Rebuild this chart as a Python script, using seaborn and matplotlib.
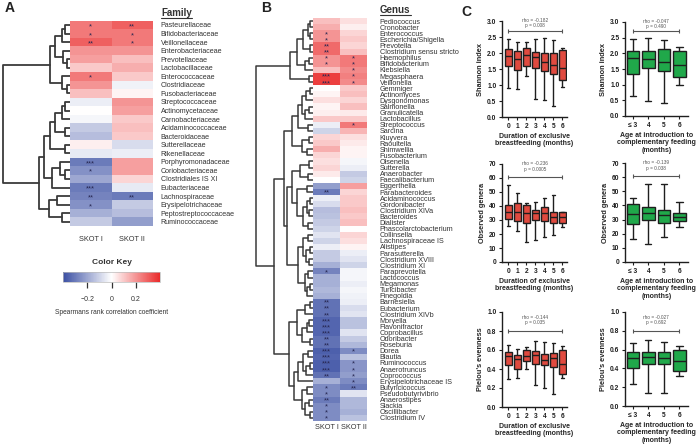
import numpy as np
import pandas as pd
import matplotlib
matplotlib.use("Agg")
import matplotlib.pyplot as plt
import seaborn as sns
from matplotlib.colors import LinearSegmentedColormap
from matplotlib.lines import Line2D

sns.set_theme(style="white")
plt.rcParams['font.family'] = ['Liberation Sans', 'DejaVu Sans']
plt.rcParams['text.color'] = '#333333'

W, H = 696, 444
TXT = '#333333'

# ------------------------------------------------------------------ data A
families = ['Pasteurellaceae', 'Bifidobacteriaceae', 'Veillonellaceae', 'Enterobacteriaceae',
            'Prevotellaceae', 'Lactobacillaceae', 'Enterococcaceae', 'Clostridiaceae',
            'Fusobacteriaceae', 'Streptococcaceae', 'Actinomycetaceae', 'Carnobacteriaceae',
            'Acidaminococcaceae', 'Bacteroidaceae', 'Sutterellaceae', 'Rikenellaceae',
            'Porphyromonadaceae', 'Coriobacteriaceae', 'Clostridiales IS XI', 'Eubacteriaceae',
            'Lachnospiraceae', 'Erysipelotrichaceae', 'Peptostreptococcaceae', 'Ruminococcaceae']
fam_skot1 = [0.25, 0.25, 0.30, 0.20, 0.18, 0.10, 0.25, 0.20, 0.12, -0.04, 0.00, -0.02,
             -0.12, -0.15, 0.03, -0.05, -0.30, -0.25, -0.20, -0.30, -0.28, -0.25, -0.18, -0.12]
fam_skot2 = [0.30, 0.25, 0.25, 0.20, 0.12, 0.15, 0.10, -0.03, 0.02, 0.20, 0.18, 0.10,
             0.12, 0.10, -0.08, -0.04, 0.18, 0.18, 0.08, -0.05, -0.30, -0.12, -0.15, -0.22]
fam_sig1 = ['*', '*', '**', '', '', '', '*', '', '', '', '', '',
            '', '', '', '', '***', '*', '', '***', '**', '*', '', '']
fam_sig2 = ['**', '*', '*', '', '', '', '', '', '', '', '', '',
            '', '', '', '', '', '', '', '', '**', '', '', '']
# merge height between neighbouring leaves (dendrogram)
fam_gaps = [15, 25, 45, 20, 10, 62, 25, 10, 205, 15, 25, 45, 15, 60, 15, 80,
            30, 15, 55, 95, 40, 65, 25]

# ------------------------------------------------------------------ data B
genera = ['Pediococcus', 'Cronobacter', 'Enterococcus', 'Escherichia/Shigella', 'Prevotella',
          'Clostridium sensu stricto', 'Haemophilus', 'Bifidobacterium', 'Klebsiella',
          'Megasphaera', 'Veillonella', 'Gemmiger', 'Actinomyces', 'Dysgonomonas', 'Salmonella',
          'Granulicatella', 'Lactobacillus', 'Streptococcus', 'Sarcina', 'Kluyvera', 'Raoultella',
          'Shimwellia', 'Fusobacterium', 'Olsenella', 'Sutterella', 'Anaerobacter',
          'Faecalibacterium', 'Eggerthella', 'Parabacteroides', 'Acidaminococcus', 'Gordonibacter',
          'Clostridium XlVa', 'Bacteroides', 'Dialister', 'Phascolarctobacterium', 'Collinsella',
          'Lachnospiraceae IS', 'Alistipes', 'Parasutterella', 'Clostridium XVIII',
          'Clostridium XI', 'Paraprevotella', 'Lactococcus', 'Megamonas', 'Turicibacter',
          'Finegoldia', 'Barnesiella', 'Eubacterium', 'Clostridium XlVb', 'Moryella',
          'Flavonifractor', 'Coprobacillus', 'Odoribacter', 'Roseburia', 'Dorea', 'Blautia',
          'Ruminococcus', 'Anaerotruncus', 'Coprococcus', 'Erysipelotrichaceae IS',
          'Butyricicoccus', 'Pseudobutyrivibrio', 'Anaerostipes', 'Slackia', 'Oscillibacter',
          'Clostridium IV']
gen_skot1 = [0.12, 0.15, 0.20, 0.20, 0.28, 0.28, 0.20, 0.20, 0.12, 0.36, 0.36,
             0.00, 0.02, 0.06, 0.02, 0.03, 0.10, -0.04, -0.10, 0.08, 0.10, 0.15, 0.08,
             0.06, 0.08, 0.04, 0.00, -0.22, -0.30, -0.04, -0.08, -0.15, -0.14, -0.12, -0.10,
             -0.06, -0.10, -0.04, -0.12, -0.12, -0.18, -0.28, -0.18, -0.18, -0.16, -0.18,
             -0.32, -0.32, -0.32, -0.35, -0.35, -0.35, -0.32, -0.32, -0.36, -0.35, -0.36,
             -0.36, -0.32, -0.18, -0.26, -0.26, -0.30, -0.26, -0.26, -0.26]
gen_skot2 = [0.06, 0.03, 0.08, 0.10, 0.08, 0.12, 0.25, 0.25, 0.22, 0.24, 0.22,
             0.10, 0.12, 0.08, 0.12, 0.04, 0.10, 0.25, 0.14, 0.06, 0.04, 0.02, 0.02,
             -0.02, -0.04, -0.12, -0.10, 0.18, 0.08, 0.10, 0.10, 0.12, 0.10, 0.12, 0.00,
             0.08, 0.06, 0.02, -0.04, -0.06, -0.10, -0.02, -0.02, -0.04, -0.02, -0.03,
             -0.04, -0.08, -0.06, -0.14, -0.14, -0.06, -0.12, -0.16, -0.26, -0.14, -0.24,
             -0.24, -0.22, -0.26, -0.30, -0.06, -0.16, -0.16, -0.18, -0.14]
gen_sig1 = ['', '', '*', '*', '**', '**', '*', '*', '', '***', '***',
            '', '', '', '', '', '', '', '', '', '', '', '',
            '', '', '', '', '', '**', '', '', '', '', '', '',
            '', '', '', '', '', '', '*', '', '', '', '',
            '**', '**', '**', '***', '***', '***', '**', '**', '***', '***', '***',
            '***', '**', '', '*', '*', '**', '*', '*', '*']
gen_sig2 = ['', '', '', '', '', '', '*', '*', '*', '*', '*',
            '', '', '', '', '', '', '*', '', '', '', '', '',
            '', '', '', '', '', '', '', '', '', '', '', '',
            '', '', '', '', '', '', '', '', '', '', '',
            '', '', '', '', '', '', '', '', '*', '', '*',
            '*', '*', '*', '**', '', '', '', '', '']
gen_gaps = [8, 15, 10, 30, 10, 50, 12, 25, 70, 12, 175,
            10, 22, 35, 12, 25, 45, 15, 65, 12, 35, 18, 90,
            12, 40, 15, 65, 20, 50, 10, 20, 12, 30, 15, 80,
            15, 30, 10, 22, 12, 45, 15, 25, 10, 18, 120,
            10, 25, 50, 12, 20, 35, 10, 75,
            15, 30, 10, 22, 45, 60, 20, 35, 12, 25, 8]

# ------------------------------------------------------------------ data C
bf_months = ['0', '1', '2', '3', '4', '5', '6']
cf_months = ['≤ 3', '4', '5', '6']
# min, Q1, median, Q3, max
shannon_bf = [[0.91, 1.60, 1.92, 2.12, 2.44], [0.89, 1.46, 1.82, 2.07, 2.34],
              [1.29, 1.60, 1.95, 2.16, 2.34], [0.57, 1.53, 1.88, 2.03, 2.44],
              [0.54, 1.45, 1.71, 2.00, 2.47], [0.33, 1.35, 1.64, 2.00, 2.40],
              [0.94, 1.17, 1.53, 2.08, 2.16]]
shannon_cf = [[0.63, 1.34, 1.86, 2.06, 2.45], [0.48, 1.52, 1.82, 2.09, 2.49],
              [0.42, 1.45, 1.71, 2.13, 2.41], [0.99, 1.23, 1.63, 2.06, 2.20]]
genera_bf = [[26, 31, 36, 41, 55], [22, 29, 36, 42, 49], [14, 28, 35, 41, 42.5],
             [16, 30, 35, 37, 43], [18, 29, 35, 39, 45.5], [19, 28, 32.5, 36, 48],
             [25, 28, 32, 35.5, 36]]
genera_cf = [[16.5, 27, 34, 41, 45.5], [13, 29.5, 35, 39, 55], [18, 27.5, 33, 37, 55],
             [25, 29, 31.5, 34.5, 42.5]]
pielou_bf = [[0.29, 0.44, 0.54, 0.58, 0.65], [0.31, 0.40, 0.51, 0.55, 0.61],
             [0.40, 0.48, 0.54, 0.60, 0.63], [0.23, 0.45, 0.55, 0.59, 0.70],
             [0.20, 0.44, 0.50, 0.56, 0.68], [0.14, 0.42, 0.52, 0.57, 0.67],
             [0.31, 0.35, 0.45, 0.60, 0.64]]
pielou_cf = [[0.23, 0.40, 0.515, 0.575, 0.67], [0.14, 0.45, 0.52, 0.57, 0.70],
             [0.14, 0.45, 0.51, 0.57, 0.68], [0.32, 0.375, 0.48, 0.60, 0.64]]
stats_txt = {'shannon_bf': ('-0.182', '0.008'), 'shannon_cf': ('-0.047', '0.490'),
             'genera_bf': ('-0.236', '0.0005'), 'genera_cf': ('-0.139', '0.038'),
             'pielou_bf': ('-0.144', '0.035'), 'pielou_cf': ('-0.027', '0.692')}

RED = '#e04a3f'
GREEN = '#20a84a'
cmap = LinearSegmentedColormap.from_list('key', ['#3a4fa3', '#ffffff', '#ea2b2b'])


def px(x0, y0, x1, y1):
    return [x0 / W, 1 - y1 / H, (x1 - x0) / W, (y1 - y0) / H]


def draw_dendro(ax, gaps, lw):
    def build(lo, hi):
        if lo == hi:
            return lo + 0.5, 0.0
        k = lo + int(np.argmax(gaps[lo:hi]))
        y1, h1 = build(lo, k)
        y2, h2 = build(k + 1, hi)
        h = gaps[k]
        ax.plot([h1, h, h, h2], [y1, y1, y2, y2], color='#3a3a3a', lw=lw)
        return (y1 + y2) / 2, h
    build(0, len(gaps))
    ax.set_ylim(len(gaps) + 1, 0)
    ax.set_xlim(max(gaps) * 1.02, 0)
    ax.axis('off')


def draw_heat(ax, names, v1, v2, s1, s2, fs, pad, xpad):
    df = pd.DataFrame({'SKOT I': v1, 'SKOT II': v2}, index=names)
    stars = np.array([s1, s2]).T
    sns.heatmap(df, ax=ax, cmap=cmap, vmin=-0.4, vmax=0.4, cbar=False, annot=stars, fmt='',
                annot_kws=dict(fontsize=5.5, color='#262650'), yticklabels=True)
    # the asterisk glyph sits high in its box: drop the annotations a little
    for t in ax.texts:
        x, y = t.get_position()
        t.set_position((x, y + 0.22))
    ax.yaxis.tick_right()
    ax.set_yticklabels(names, rotation=0, fontsize=fs, color=TXT)
    ax.set_xticklabels(['SKOT I', 'SKOT II'], rotation=0, fontsize=5.3, color=TXT)
    ax.tick_params(axis='y', length=0, pad=pad)
    ax.tick_params(axis='x', length=0, pad=xpad)


def draw_box(ax, cats, stats, color, key, ylim, yticks, fmt, ylabel, xlabel, xlim, brk, ty):
    rows = [(c, v) for c, s in zip(cats, stats) for v in s]
    df = pd.DataFrame(rows, columns=['grp', 'val'])
    sns.boxplot(data=df, x='grp', y='val', order=cats, ax=ax, color=color, saturation=1,
                width=0.8, whis=(0, 100), linecolor='#1e1e1e', linewidth=1.0,
                showfliers=False)
    sns.despine(ax=ax)
    for sp in ['left', 'bottom']:
        ax.spines[sp].set_color('#1e1e1e')
        ax.spines[sp].set_linewidth(1.0)
    ax.set_ylim(ylim)
    ax.set_xlim(xlim)
    ax.set_yticks(yticks)
    ax.set_yticklabels([fmt.format(t) for t in yticks])
    ax.tick_params(direction='out', length=2.5, width=0.8, labelsize=4.8, pad=1.5,
                   colors='#1e1e1e', left=True, bottom=True)
    for t in ax.get_xticklabels() + ax.get_yticklabels():
        t.set_fontweight('bold')
    ax.set_ylabel(ylabel, fontsize=5.3, fontweight='bold', labelpad=2)
    ax.set_xlabel(xlabel, fontsize=5.0, fontweight='bold', labelpad=2.5, linespacing=1.05)
    n = len(cats) - 1
    ax.plot([0, n], [brk, brk], color='#555555', lw=0.8, clip_on=False)
    ax.plot([0, n], [brk, brk], ls='none', marker='|', ms=3.5, mew=0.8, color='#555555',
            clip_on=False)
    rho, p = stats_txt[key]
    ax.text(n / 2, ty[0], f'rho = {rho}', ha='center', va='center', fontsize=3.4,
            color='#555555', clip_on=False)
    ax.text(n / 2, ty[1], f'p = {p}', ha='center', va='center', fontsize=3.4,
            color='#555555', clip_on=False)


fig = plt.figure(figsize=(W / 100, H / 100), dpi=100)

# ---------------------------------------------------------- panel A
ax_da = fig.add_axes(px(2, 20.7, 70, 226))
draw_dendro(ax_da, fam_gaps, 1.3)
ax_ha = fig.add_axes(px(70, 20.7, 153, 226))
draw_heat(ax_ha, families, fam_skot1, fam_skot2, fam_sig1, fam_sig2, 5.1, 5.5, 7)

cax = fig.add_axes(px(63, 272, 160, 282))
cb = fig.colorbar(ax_ha.collections[0], cax=cax, orientation='horizontal', ticks=[-0.2, 0, 0.2])
cb.ax.tick_params(labelsize=5, length=4, width=0.9, colors=TXT, pad=6)
cb.set_ticklabels(['\u22120.2', '0', '0.2'])
cb.outline.set_edgecolor('#bbbbbb')
cb.outline.set_linewidth(0.5)
fig.text(112 / W, 1 - 262 / H, 'Color Key', ha='center', va='center', fontsize=6,
         fontweight='bold', color=TXT)
fig.text(112 / W, 1 - 312 / H, 'Spearmans rank correlation coefficient', ha='center',
         va='center', fontsize=4.8, color=TXT)

# ---------------------------------------------------------- panel B
ax_db = fig.add_axes(px(255, 18, 313, 421))
draw_dendro(ax_db, gen_gaps, 1.1)
ax_hb = fig.add_axes(px(313, 18, 367, 421))
draw_heat(ax_hb, genera, gen_skot1, gen_skot2, gen_sig1, gen_sig2, 5.2, 9, 2)

# ---------------------------------------------------------- panel C
bf_label = 'Duration of exclusive\nbreastfeeding (months)'
cf_label = 'Age at introduction to\ncomplementary feeding\n(months)'
red_xlim = (-0.7, 6.5)
grn_xlim = (-0.5, 3.55)
sh_ticks = [0, 0.5, 1.0, 1.5, 2.0, 2.5, 3.0]
ge_ticks = [0, 10, 20, 30, 40, 50, 60, 70]
pi_ticks = [0, 0.2, 0.4, 0.6, 0.8, 1.0]

ax = fig.add_axes(px(502, 21, 567, 117))
draw_box(ax, bf_months, shannon_bf, RED, 'shannon_bf', (0, 3), sh_ticks, '{:.1f}',
         'Shannon index', bf_label, red_xlim, 2.7, (3.03, 2.86))
ax = fig.add_axes(px(625, 22, 688, 116))
draw_box(ax, cf_months, shannon_cf, GREEN, 'shannon_cf', (0, 3), sh_ticks, '{:.1f}',
         'Shannon index', cf_label, grn_xlim, 2.7, (3.03, 2.86))
ax = fig.add_axes(px(502, 164, 567, 262))
draw_box(ax, bf_months, genera_bf, RED, 'genera_bf', (0, 70), ge_ticks, '{:.0f}',
         'Observed genera', bf_label, red_xlim, 60.5, (70.5, 66))
ax = fig.add_axes(px(625, 163, 688, 262))
draw_box(ax, cf_months, genera_cf, GREEN, 'genera_cf', (0, 70), ge_ticks, '{:.0f}',
         'Observed genera', cf_label, grn_xlim, 60.5, (70.5, 66))
ax = fig.add_axes(px(502, 312, 567, 407))
draw_box(ax, bf_months, pielou_bf, RED, 'pielou_bf', (0, 1), pi_ticks, '{:.1f}',
         "Pielou's evenness", bf_label, red_xlim, 0.8, (0.945, 0.885))
ax = fig.add_axes(px(625, 312, 688, 406))
draw_box(ax, cf_months, pielou_cf, GREEN, 'pielou_cf', (0, 1), pi_ticks, '{:.1f}',
         "Pielou's evenness", cf_label, grn_xlim, 0.8, (0.945, 0.885))

# ---------------------------------------------------------- titles
for lab, x, y in [('A', 10, 8), ('B', 266, 8), ('C', 466, 12)]:
    fig.text(x / W, 1 - y / H, lab, fontsize=10, fontweight='bold', va='center',
             ha='center', color='#222222')
heads = [fig.text(161 / W, 1 - 13 / H, 'Family', fontsize=7, fontweight='bold', va='center',
                  color=TXT),
         fig.text(380 / W, 1 - 10 / H, 'Genus', fontsize=7, fontweight='bold', va='center',
                  color=TXT)]
fig.canvas.draw()
for t in heads:
    bb = t.get_window_extent()
    yline = bb.y0 - 0.5
    fig.add_artist(Line2D([bb.x0 / W, bb.x1 / W], [yline / H, yline / H], color=TXT, lw=0.8))

fig.savefig('out.png', dpi=100)
